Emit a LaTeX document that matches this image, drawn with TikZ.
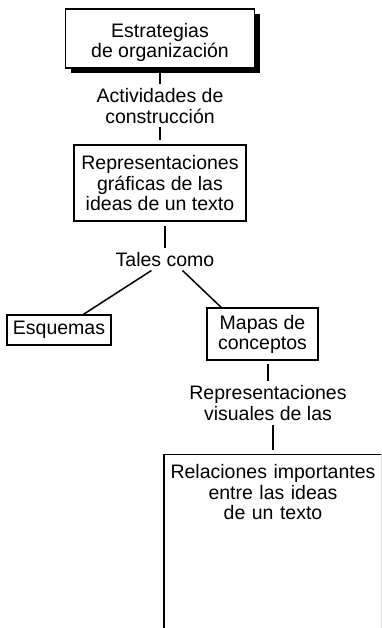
\documentclass[tikz,border=0pt]{standalone}
\usepackage{fontspec}
\setmainfont{Liberation Sans}
\usetikzlibrary{positioning,shadows}
\tikzset{
    concept/.style={rectangle,draw,line width=1.5pt,inner sep=0pt,align=center},
    shadowed/.style={fill=white,drop shadow={shadow xshift=5pt,shadow yshift=-5pt,fill=black,opacity=1}},
    linkword/.style={inner sep=4pt,align=center},
    link/.style={-,line width=1.5pt}
}

\begin{document}
\begin{tikzpicture}[x=1pt,y=-1pt,font=\fontsize{19.5}{20.5}\selectfont]

                \useasboundingbox (0,0) rectangle (381,628);
                \clip (0,0) rectangle (381,628);

                \node[concept,shadowed] (estrategias) at (160,38.5) [minimum width=189pt,minimum height=59pt] {\rule{0pt}{22pt}Estrategias\\de organización};

                \node[linkword] (actividades) [below=15.5pt of estrategias] {Actividades de\\construcción}
                    edge[link] (estrategias);

                \node[concept] (representaciones) [below=17pt of actividades,minimum width=172pt,minimum height=76pt] {Representaciones\\gráficas de las\\ideas de un texto}
                    edge[link,shorten <=4pt] (actividades);

                \node[linkword] (tales) [below=25.8pt of representaciones,xshift=5pt] {Tales como};
                \draw[link,shorten >=4pt] (tales.north) -- (tales.north |- representaciones.south);

                \node[concept] (esquemas) [below=44pt of tales,xshift=-106pt,minimum width=104pt,minimum height=30pt] {Esquemas};
                \node[concept] (mapas) [below=37pt of tales,xshift=97.5pt,minimum width=111pt,minimum height=52pt] {Mapas de\\conceptos};
                \draw[link] (tales.220) -- (esquemas.33);
                \draw[link] (tales.327) -- (mapas.147);

                \node[linkword] (visuales) [below=20.3pt of mapas,xshift=5.5pt] {Representaciones\\visuales de las};
                \draw[link,shorten >=3pt] (visuales.north) -- (visuales.north |- mapas.south);

                \node[concept] (relaciones) [below=29.2pt of visuales,xshift=5pt,inner xsep=2pt,inner ysep=10pt,text width=214pt,text depth=180pt] {Relaciones importantes\\entre las ideas\\de un texto};
                \draw[link,shorten <=4pt] (relaciones.north) -- (relaciones.north |- visuales.south);

            \end{tikzpicture}
\end{document}
